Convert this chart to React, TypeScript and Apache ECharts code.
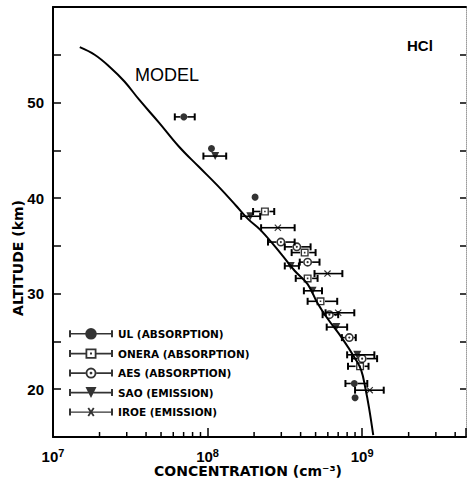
import React, { useEffect, useRef } from "react";
import * as echarts from "echarts";

// ---- data ----
const X_MIN = 1e7;
const X_MAX = 4.7e9;
const Y_MIN = 15;
const Y_MAX = 60;

// model curve [concentration, altitude]
const modelCurve = [
  [1.49e7, 55.8], [1.86e7, 55.0], [2.32e7, 53.75], [2.9e7, 52.2], [3.61e7, 50.3],
  [4.85e7, 47.9], [6.52e7, 45.4], [8.75e7, 43.3], [1.17e8, 41.25], [1.53e8, 39.2],
  [1.83e8, 37.8], [2.22e8, 36.6], [2.98e8, 34.2], [3.66e8, 32.4], [4.44e8, 31.0],
  [5.15e8, 29.0], [5.97e8, 27.4], [7.45e8, 25.3], [9.02e8, 23.2], [9.86e8, 22.0],
  [1.05e9, 20.1], [1.11e9, 18.0], [1.18e9, 15.2],
];

// [value, altitude, low, high]
const ulPoints = [
  [7.02e7, 48.5, 6.14e7, 8.26e7],
  [1.06e8, 45.2, null, null],
  [2.03e8, 40.1, null, null],
  [8.9e8, 20.6, 7.8e8, 1.08e9],
  [9.0e8, 19.1, null, null],
];
const oneraPoints = [
  [2.35e8, 38.6, 1.97e8, 2.7e8],
  [4.25e8, 34.3, 3.5e8, 5.0e8],
  [4.44e8, 31.6, 3.72e8, 5.15e8],
  [5.38e8, 29.2, 4.44e8, 6.9e8],
  [9.7e8, 22.4, 8.1e8, 1.1e9],
];
const aesPoints = [
  [2.98e8, 35.4, 2.46e8, 3.66e8],
  [3.78e8, 34.9, 3.16e8, 4.64e8],
  [4.44e8, 33.3, 3.95e8, 5.3e8],
  [6.14e8, 27.8, 5.55e8, 7.0e8],
  [8.26e8, 25.4, 7.4e8, 9.1e8],
  [1.0e9, 23.2, 8.6e8, 1.25e9],
];
const saoPoints = [
  [1.12e8, 44.4, 9.4e7, 1.32e8],
  [1.89e8, 38.1, 1.65e8, 2.19e8],
  [3.45e8, 32.9, 3.16e8, 3.9e8],
  [4.78e8, 30.3, 4.2e8, 5.5e8],
  [6.81e8, 26.5, 5.9e8, 8.0e8],
  [9.3e8, 23.6, 8.0e8, 1.2e9],
];
const iroePoints = [
  [2.85e8, 36.9, 2.22e8, 3.66e8],
  [5.97e8, 32.1, 4.92e8, 7.45e8],
  [7.0e8, 28.0, 5.8e8, 8.9e8],
  [1.12e9, 19.9, 9.0e8, 1.38e9],
];

const minorTickValues = [
  2e7, 3e7, 4e7, 5e7, 6e7, 7e7, 8e7, 9e7,
  2e8, 3e8, 4e8, 5e8, 6e8, 7e8, 8e8, 9e8,
  2e9, 3e9, 4e9,
];

const seriesNames = [
  "UL (ABSORPTION)",
  "ONERA (ABSORPTION)",
  "AES (ABSORPTION)",
  "SAO (EMISSION)",
  "IROE (EMISSION)",
];

// ---- symbol paths ----
const circleRingDot =
  "path://M0,5 A5,5 0 1,1 10,5 A5,5 0 1,1 0,5 Z M1.8,5 A3.2,3.2 0 1,0 8.2,5 A3.2,3.2 0 1,0 1.8,5 Z M3.8,5 A1.2,1.2 0 1,1 6.2,5 A1.2,1.2 0 1,1 3.8,5 Z";
const squareRingDot =
  "path://M0,0 H10 V10 H0 Z M1.7,1.7 V8.3 H8.3 V1.7 Z M4,4 H6 V6 H4 Z";
const triDown = "path://M0,0 H10 L5,9 Z";
const crossSym =
  "path://M0,1.2 L1.2,0 L10,8.8 L8.8,10 Z M8.8,0 L10,1.2 L1.2,10 L0,8.8 Z";

const caps = "M0,2.5 H2 V9.5 H0 Z M42,2.5 H44 V9.5 H42 Z";
const fullLine = "M0,5.2 H44 V6.8 H0 Z";
const splitLine = "M0,5.2 H16.5 V6.8 H0 Z M27.5,5.2 H44 V6.8 H27.5 Z";
const legendIcons = [
  "path://" + caps + " " + fullLine + " M16.2,6 A5.8,5.8 0 1,1 27.8,6 A5.8,5.8 0 1,1 16.2,6 Z",
  "path://" + caps + " " + splitLine +
    " M16.5,0.8 H27.5 V11.2 H16.5 Z M18.3,2.6 V9.4 H25.7 V2.6 Z M21,5 H23 V7 H21 Z",
  "path://" + caps + " " + splitLine +
    " M16.5,6 A5.5,5.5 0 1,1 27.5,6 A5.5,5.5 0 1,1 16.5,6 Z M18.4,6 A3.6,3.6 0 1,0 25.6,6 A3.6,3.6 0 1,0 18.4,6 Z M20.6,6 A1.4,1.4 0 1,1 23.4,6 A1.4,1.4 0 1,1 20.6,6 Z",
  "path://" + caps + " " + fullLine + " M16.5,0.5 H27.5 L22,11.5 Z",
  "path://" + caps + " M0,5.4 H44 V6.6 H0 Z" +
    " M18.5,2.5 L20,1.5 L25.5,9.5 L24,10.5 Z M24,1.5 L25.5,2.5 L20,10.5 L18.5,9.5 Z",
];

const FONT_WIDE = "DejaVu Sans";
const FONT_NUM = "Liberation Sans";

export default function App() {
  const ref = useRef<HTMLDivElement>(null);

  useEffect(() => {
    if (!ref.current) return;
    const chart = echarts.init(ref.current, undefined, { renderer: "svg" });

    const allPoints = [ulPoints, oneraPoints, aesPoints, saoPoints, iroePoints];
    const gaps = [3.5, 4.5, 4.5, 0, 0];
    const errData: any[] = [];
    allPoints.forEach((pts, si) => {
      pts.forEach((p) => {
        if (p[2] != null && p[3] != null) errData.push([p[0], p[1], p[2], p[3], gaps[si]]);
      });
    });

    const symbols = ["circle", squareRingDot, circleRingDot, triDown, crossSym];
    const sizes = [7, 8, 9, 8, 7];

    const scatterSeries = allPoints.map((pts, i) => ({
      type: "scatter",
      name: seriesNames[i],
      data: pts.map((p) => [p[0], p[1]]),
      symbol: symbols[i],
      symbolSize: sizes[i],
      itemStyle: { color: "#000" },
      z: 5,
    }));

    const option: any = {
      animation: false,
      backgroundColor: "#fff",
      grid: { left: 53, right: 2, top: 7, bottom: 45 },
      xAxis: [
        {
          type: "log",
          min: X_MIN,
          max: X_MAX,
          logBase: 10,
          axisLine: { show: true, lineStyle: { color: "#000", width: 2 } },
          axisTick: { show: true, inside: true, length: 9, lineStyle: { color: "#000", width: 1.5 } },
          splitLine: { show: false },
          axisLabel: {
            margin: 10,
            formatter: (v: number) => {
              const e = Math.log10(v);
              const n = Math.round(e);
              if (Math.abs(e - n) > 1e-6) return "";
              return `{b|10}{s|${n}}`;
            },
            rich: {
              b: { fontFamily: FONT_NUM, fontWeight: "bold", fontSize: 15, color: "#000", lineHeight: 18 },
              s: { fontFamily: FONT_NUM, fontWeight: "bold", fontSize: 11, color: "#000", verticalAlign: "top", lineHeight: 18 },
            },
          },
        },
        {
          type: "log",
          position: "top",
          min: X_MIN,
          max: X_MAX,
          axisLine: { show: true, lineStyle: { color: "#000", width: 2 } },
          axisTick: { show: false },
          axisLabel: { show: false },
          splitLine: { show: false },
        },
      ],
      yAxis: [
        {
          type: "value",
          min: Y_MIN,
          max: Y_MAX,
          interval: 5,
          axisLine: { show: true, lineStyle: { color: "#000", width: 2 } },
          axisTick: { show: true, inside: true, length: 8, lineStyle: { color: "#000", width: 1.5 } },
          splitLine: { show: false },
          axisLabel: {
            margin: 9,
            color: "#000",
            fontFamily: FONT_NUM,
            fontWeight: "bold",
            fontSize: 15,
            formatter: (v: number) => (v % 10 === 0 && v < Y_MAX ? String(v) : ""),
          },
        },
        {
          type: "value",
          position: "right",
          min: Y_MIN,
          max: Y_MAX,
          interval: 5,
          axisLine: { show: true, lineStyle: { color: "#999", width: 1, type: "dotted" } },
          axisTick: { show: true, inside: true, length: 6, lineStyle: { color: "#000", width: 1.5 } },
          axisLabel: { show: false },
          splitLine: { show: false },
        },
      ],
      legend: {
        orient: "vertical",
        left: 64,
        top: 323,
        itemWidth: 44,
        itemHeight: 12,
        itemGap: 8.5,
        selectedMode: false,
        textStyle: { fontFamily: FONT_WIDE, fontWeight: "bold", fontSize: 10.5, color: "#000" },
        data: seriesNames.map((n, i) => ({ name: n, icon: legendIcons[i], itemStyle: { color: "#000" } })),
      },
      graphic: [
        {
          type: "text",
          x: 135,
          y: 66,
          style: { text: "MODEL", fontFamily: FONT_NUM, fontSize: 18, fill: "#000" },
        },
        {
          type: "text",
          x: 407,
          y: 38,
          style: { text: "HCl", fontFamily: FONT_NUM, fontWeight: "bold", fontSize: 15, fill: "#000" },
        },
        {
          type: "text",
          x: 18,
          y: 258,
          rotation: Math.PI / 2,
          style: {
            text: "ALTITUDE (km)",
            fontFamily: FONT_WIDE,
            fontWeight: "bold",
            fontSize: 14,
            fill: "#000",
            textAlign: "center",
            textVerticalAlign: "middle",
          },
        },
        {
          type: "text",
          x: 248,
          y: 471,
          style: {
            text: "CONCENTRATION (cm\u207B\u00B3)",
            fontFamily: FONT_WIDE,
            fontWeight: "bold",
            fontSize: 14,
            fill: "#000",
            textAlign: "center",
            textVerticalAlign: "middle",
          },
        },
      ],
      series: [
        {
          type: "line",
          name: "MODEL",
          data: modelCurve,
          smooth: 0.4,
          showSymbol: false,
          symbol: "none",
          lineStyle: { color: "#000", width: 2 },
          z: 3,
        },
        {
          type: "custom",
          name: "errbars",
          data: errData,
          encode: { x: 0, y: 1 },
          z: 4,
          renderItem: (params: any, api: any) => {
            const y = api.value(1);
            const c = api.coord([api.value(0), y]);
            const lo = api.coord([api.value(2), y]);
            const hi = api.coord([api.value(3), y]);
            const g = api.value(4);
            const st = { stroke: "#000", lineWidth: 1.6 };
            const cap = 3.5;
            return {
              type: "group",
              children: [
                { type: "line", shape: { x1: lo[0], y1: lo[1], x2: c[0] - g, y2: c[1] }, style: st },
                { type: "line", shape: { x1: c[0] + g, y1: c[1], x2: hi[0], y2: hi[1] }, style: st },
                { type: "line", shape: { x1: lo[0], y1: lo[1] - cap, x2: lo[0], y2: lo[1] + cap }, style: { stroke: "#000", lineWidth: 2 } },
                { type: "line", shape: { x1: hi[0], y1: hi[1] - cap, x2: hi[0], y2: hi[1] + cap }, style: { stroke: "#000", lineWidth: 2 } },
              ],
            };
          },
        },
        {
          type: "custom",
          name: "minorTicks",
          data: minorTickValues.map((v) => [v, Y_MIN]),
          encode: { x: 0, y: 1 },
          z: 4,
          clip: false,
          renderItem: (params: any, api: any) => {
            const p = api.coord([api.value(0), api.value(1)]);
            return {
              type: "line",
              shape: { x1: p[0], y1: p[1], x2: p[0], y2: p[1] - 5 },
              style: { stroke: "#000", lineWidth: 1.5 },
            };
          },
        },
        ...scatterSeries,
      ],
    };

    chart.setOption(option);
    return () => chart.dispose();
  }, []);

  return (
    <div
      ref={ref}
      style={{ position: "fixed", left: 0, top: 0, width: 469, height: 482, background: "#fff" }}
    />
  );
}
